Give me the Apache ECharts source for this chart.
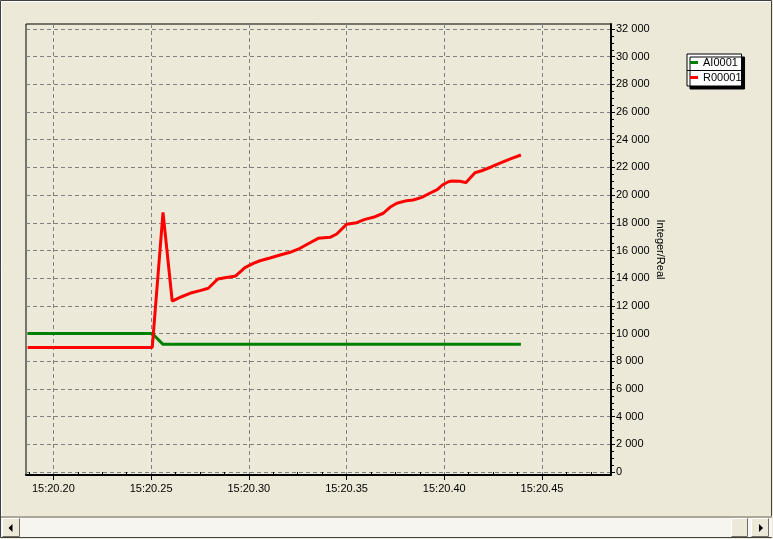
<!DOCTYPE html>
<html><head><meta charset="utf-8">
<script src="https://cdn.jsdelivr.net/npm/echarts@6/dist/echarts.min.js"></script>
<style>html,body{margin:0;padding:0;background:#ECE9D8;overflow:hidden}#c{width:773px;height:539px;}</style>
</head><body><div id="c"></div>
<script>
// ---- data (time in seconds after 15:20, values Integer/Real) ----
const seriesNames = ['AI0001', 'R00001'];
const greenTime = [20.1868, 20.2506, 20.2561, 20.4392];
const greenVal  = [10000, 10000, 9220, 9220];
const redTime = [20.1868, 20.2506, 20.2561, 20.2608, 20.2656, 20.2708, 20.2750, 20.2793, 20.2841, 20.2878,
  20.2933, 20.2980, 20.3023, 20.3057, 20.3108, 20.3160, 20.3211, 20.3262, 20.3313, 20.3355,
  20.3415, 20.3450, 20.3500, 20.3552, 20.3594, 20.3637, 20.3688, 20.3722, 20.3757, 20.3808,
  20.3841, 20.3885, 20.3918, 20.3966, 20.3990, 20.4021, 20.4038, 20.4081, 20.4110, 20.4157,
  20.4191, 20.4243, 20.4294, 20.4345, 20.4392];
const redVal = [9000, 9000, 18750, 12350, 12660, 12950, 13100, 13270, 13940, 14030,
  14160, 14760, 15070, 15260, 15460, 15670, 15870, 16160, 16560, 16880,
  16950, 17190, 17890, 18010, 18250, 18400, 18690, 19120, 19410, 19600,
  19650, 19840, 20080, 20420, 20730, 20970, 21020, 21000, 20900, 21620,
  21760, 22050, 22370, 22660, 22900];
const xMajorTicks = [20.20, 20.25, 20.30, 20.35, 20.40, 20.45];
const xMinorTicks = [20.1875, 20.2125, 20.225, 20.2375, 20.2625, 20.275, 20.2875, 20.3125, 20.325, 20.3375,
  20.3625, 20.375, 20.3875, 20.4125, 20.425, 20.4375, 20.4625, 20.475];
const yMajorTicks = [0, 2000, 4000, 6000, 8000, 10000, 12000, 14000, 16000, 18000, 20000, 22000, 24000, 26000, 28000, 30000, 32000];
const yMinorTicks = [];
for (let v = 500; v < 32000; v += 500) if (v % 2000 !== 0) yMinorTicks.push(v);
const xRange = [20.1860, 20.4853];
const yRange = [-217, 32361];
const yAxisName = 'Integer/Real';

const FONT = 'Liberation Sans';
const chart = echarts.init(document.getElementById('c'), null, {renderer: 'canvas'});
const zip = (a, b) => a.map((t, i) => [t, b[i]]);
const fmtY = v => String(v).replace(/\B(?=(\d{3})+(?!\d))/g, ' ');

function btn(x, y, w, h) {
  return [
    {type: 'rect', shape: {x: x, y: y, width: w, height: h}, style: {fill: '#ECE9D8'}},
    {type: 'polyline', shape: {points: [[x + 0.5, y + h - 0.5], [x + 0.5, y + 0.5], [x + w - 0.5, y + 0.5]]}, style: {stroke: '#fff', lineWidth: 1, fill: null}},
    {type: 'polyline', shape: {points: [[x + 0.5, y + h - 0.5], [x + w - 0.5, y + h - 0.5], [x + w - 0.5, y + 0.5]]}, style: {stroke: '#716F64', lineWidth: 1, fill: null}}
  ];
}

const graphics = [].concat(
  [
    {type: 'rect', shape: {x: 0.5, y: 0.5, width: 771, height: 537}, style: {fill: null, stroke: '#404040', lineWidth: 1}},
    {type: 'polyline', shape: {points: [[1.5, 537], [1.5, 1.5], [771, 1.5]]}, style: {fill: null, stroke: '#fff', lineWidth: 1}},
    {type: 'rect', shape: {x: 1, y: 516, width: 771, height: 2}, style: {fill: '#ACA899'}},
    {type: 'rect', shape: {x: 1, y: 518, width: 771, height: 19}, style: {fill: '#F6F5F0'}}
  ],
  btn(2, 518, 18, 19),
  btn(731, 518, 17, 19),
  btn(751, 518, 18, 19),
  [
    {type: 'polygon', shape: {points: [[12.5, 524], [12.5, 532], [8.5, 528]]}, style: {fill: '#000'}},
    {type: 'polygon', shape: {points: [[759, 524], [759, 532], [763, 528]]}, style: {fill: '#000'}},
    {type: 'line', z: 100, shape: {x1: 687, y1: 70.5, x2: 743, y2: 70.5}, style: {stroke: '#000', lineWidth: 1}}
  ]
);

chart.setOption({
  animation: false,
  backgroundColor: '#ECE9D8',
  textStyle: {fontFamily: FONT},
  grid: {left: 26, top: 24, right: 162, bottom: 64, show: true, borderColor: '#000', borderWidth: 1,
         backgroundColor: 'transparent', outerBoundsMode: 'none', containLabel: false},
  legend: {
    orient: 'vertical', left: 687, top: 54, padding: [2, 0, 2, 3], itemGap: 2,
    itemWidth: 8, itemHeight: 3, icon: 'rect', selectedMode: false,
    backgroundColor: '#fff', borderColor: '#000', borderWidth: 1,
    shadowColor: '#000', shadowBlur: 0, shadowOffsetX: 3, shadowOffsetY: 3,
    textStyle: {fontFamily: FONT, fontSize: 11, color: '#000', lineHeight: 13},
    data: seriesNames
  },
  xAxis: [
    {
      type: 'value', min: xRange[0], max: xRange[1], position: 'bottom',
      axisLine: {show: true, onZero: false, lineStyle: {color: '#000', width: 2}},
      axisTick: {show: true, customValues: xMajorTicks, length: 5, lineStyle: {color: '#000', width: 1}},
      axisLabel: {show: true, customValues: xMajorTicks, margin: 8, color: '#000', fontFamily: FONT, fontSize: 11,
                  formatter: v => '15:' + v.toFixed(2)},
      splitLine: {show: true, lineStyle: {color: '#808080', type: [4, 3], width: 1}}
    },
    {
      type: 'value', min: xRange[0], max: xRange[1], position: 'bottom',
      axisLine: {show: false},
      axisTick: {show: true, customValues: xMinorTicks, length: 3, lineStyle: {color: '#000', width: 1}},
      axisLabel: {show: false},
      splitLine: {show: false}
    }
  ],
  yAxis: [
    {
      type: 'value', min: yRange[0], max: yRange[1], position: 'right',
      name: yAxisName, nameLocation: 'middle', nameRotate: -90, nameGap: 44, nameMoveOverlap: false,
      nameTextStyle: {fontFamily: FONT, fontSize: 11, color: '#000'},
      axisLine: {show: true, onZero: false, lineStyle: {color: '#000', width: 2}},
      axisTick: {show: true, customValues: yMajorTicks, length: 4, lineStyle: {color: '#000', width: 1}},
      axisLabel: {show: true, customValues: yMajorTicks, margin: 5, color: '#000', fontFamily: FONT, fontSize: 11,
                  formatter: v => fmtY(v)},
      splitLine: {show: true, lineStyle: {color: '#808080', type: [4, 3], width: 1}}
    },
    {
      type: 'value', min: yRange[0], max: yRange[1], position: 'right',
      axisLine: {show: false},
      axisTick: {show: true, customValues: yMinorTicks, length: 3, lineStyle: {color: '#000', width: 1}},
      axisLabel: {show: false},
      splitLine: {show: false}
    }
  ],
  series: [
    {name: seriesNames[0], type: 'line', xAxisIndex: 0, yAxisIndex: 0, data: zip(greenTime, greenVal),
     showSymbol: false, symbol: 'none', color: '#008000', lineStyle: {color: '#008000', width: 3}, clip: true},
    {name: seriesNames[1], type: 'line', xAxisIndex: 0, yAxisIndex: 0, data: zip(redTime, redVal),
     showSymbol: false, symbol: 'none', color: '#FF0000', lineStyle: {color: '#FF0000', width: 3}, clip: true}
  ],
  graphic: graphics
});
</script>
</body></html>
